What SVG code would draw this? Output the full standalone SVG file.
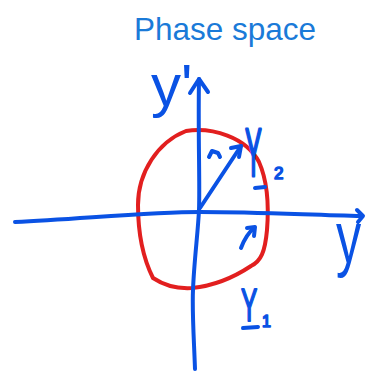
<svg xmlns="http://www.w3.org/2000/svg" width="366" height="371" viewBox="0 0 366 371">
<style>
.b{fill:none;stroke:#0a52e4;stroke-width:4;stroke-linecap:round;stroke-linejoin:round}
.r{fill:none;stroke:#e21f1f;stroke-width:4;stroke-linecap:round;stroke-linejoin:round}
.lbl{font-family:"Liberation Sans",Arial,sans-serif;fill:#0a52e4}
.thick{stroke:#0a52e4;stroke-width:1.6;stroke-linejoin:round}
.title{font-family:"Liberation Sans",Arial,sans-serif;fill:#1a7ad8;font-size:31.5px}
</style>
<rect width="366" height="371" fill="#ffffff"/>
<text class="title" x="225" y="40" text-anchor="middle">Phase space</text>
<g id="orbit">
<path class="r" d="M186,131 C212,127 246,137 259,162 C267,180 269,205 267,230 C265,252 261,261 251,266 C233,278 212,286 192,288 C176,289 162,284 153,278 C144,260 138,235 138,205 C138,172 158,142 186,131 Z"/>
</g>
<g id="connectors">
<path class="b" d="M195,369 C194,340 192,312 193,290 C194,262 198,232 199,210 C200,180 198,140 199,79"/>
<path class="b" d="M190,93 L199,79 L208,92"/>
<path class="b" d="M15,222 C80,219 150,212 200,212 C260,212 310,215 362,216"/>
<path class="b" d="M357,210 L363,216 L358,222"/>
<path class="b" d="M200,208 L241,146"/>
<path class="b" d="M231,148 L241,146 L239,157"/>
<path class="b" d="M209,157 L212,151 L218,153 L220,157"/>
<path class="b" d="M241,248 C244,240 248,233 254,228"/>
<path class="b" d="M247,228 L255,227 L254,236"/>
</g>
<g id="label-yprime"><text class="lbl" x="151" y="106" font-size="60">y'</text></g>
<g id="label-y"><text class="lbl" transform="translate(336,263) scale(0.68,1)" font-size="74">y</text></g>
<g id="label-Y2">
<text class="lbl thick" transform="translate(245,176) scale(0.7,1.9)" font-size="36">Y</text>
<path class="b" d="M255,188 L265,187"/>
<text class="lbl thick" x="274" y="179" font-size="17" stroke-width="1">2</text>
</g>
<g id="label-Y1">
<text class="lbl thick" transform="translate(241,321) scale(0.68,1.3)" font-size="36">Y</text>
<path class="b" d="M243,328 L258,327"/>
<text class="lbl thick" x="262" y="327" font-size="16" stroke-width="1">1</text>
</g>
</svg>
